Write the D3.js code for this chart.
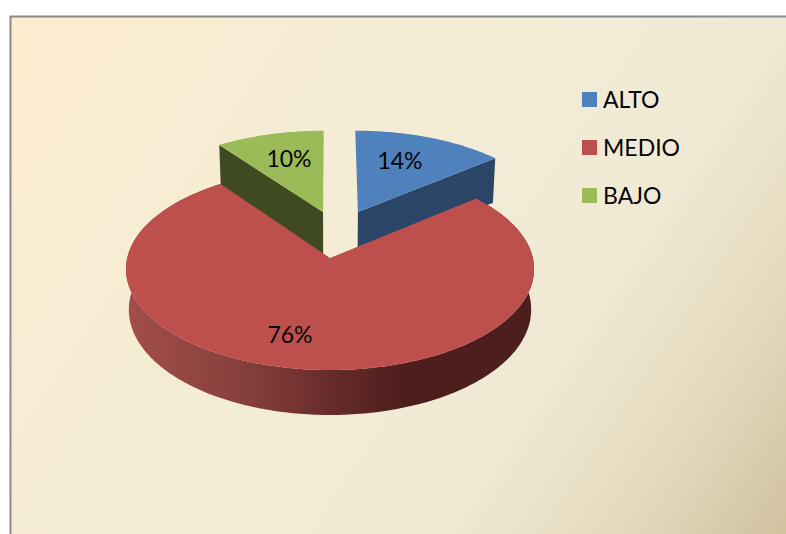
<!DOCTYPE html>
<html>
<head>
<meta charset="utf-8">
<script src="https://cdn.jsdelivr.net/npm/d3@7"></script>
<style>
html,body{margin:0;padding:0;background:#fff;overflow:hidden}
svg{display:block}
text{font-family:Lato,"Open Sans",sans-serif;fill:#050505}
</style>
</head>
<body>
<svg id="chart" width="786" height="534"></svg>
<script>
const categories = ["ALTO", "MEDIO", "BAJO"];
const values = [14, 76, 10];
const labels = ["14%", "76%", "10%"];
const topColors = ["#4f81bd", "#bd4f4c", "#9bbb59"];
const wallColors = ["#2a4566", "#6b2c2a", "#404a20"];
const explode = [[0.145, 0.486], [0, 0], [-0.036, 0.486]];

const W = 786, H = 534;
const svg = d3.select("#chart");
const defs = svg.append("defs");

const bg = defs.append("linearGradient").attr("id", "bg")
  .attr("gradientUnits", "userSpaceOnUse")
  .attr("x1", 10).attr("y1", 16).attr("x2", 786).attr("y2", 534);
[[0, "#ffecd0"], [0.22, "#f7ecd4"], [0.5, "#f3ecd6"], [0.7, "#efe8d2"], [0.84, "#e4dbbf"], [1, "#d1c29f"]]
  .forEach(s => bg.append("stop").attr("offset", s[0]).attr("stop-color", s[1]));

const rim = defs.append("linearGradient").attr("id", "rim")
  .attr("gradientUnits", "userSpaceOnUse")
  .attr("x1", 128).attr("y1", 0).attr("x2", 532).attr("y2", 0);
[[0, "#a24d4a"], [0.3, "#853f3b"], [0.52, "#642a29"], [0.68, "#4e1e1d"], [1, "#4c1e1d"]]
  .forEach(s => rim.append("stop").attr("offset", s[0]).attr("stop-color", s[1]));

svg.append("rect").attr("x", 10.5).attr("y", 16.5).attr("width", 790).attr("height", 530)
  .attr("fill", "url(#bg)").attr("stroke", "#8a8a8a").attr("stroke-width", 2);

// Pie projection: world disc (unit radius) to screen with mild perspective
const persp = 0.11, depth = 40, backDepth = 50, lowerShrink = 0.986;
const sx = d3.scaleLinear().domain([0, 1]).range([330, 330 + 202.8]);
const sy = d3.scaleLinear().domain([0, 1]).range([258, 258 - 99.7]);
const project = (X, Y, drop = 0) => {
  const w = 1 + persp * Y;
  const shrink = drop > 0 ? lowerShrink : 1;
  return [sx(shrink * X / w), sy(Y / w) + drop / w];
};

const arcs = d3.pie().sort(null).startAngle(0).endAngle(2 * Math.PI)(values);
const line = d3.line();

function rimPts(d, i, drop) {
  const [ex, ey] = explode[i];
  const n = Math.max(8, Math.round((d.endAngle - d.startAngle) * 60));
  return d3.range(n + 1).map(k => {
    const a = d.startAngle + (d.endAngle - d.startAngle) * k / n;
    return project(ex + Math.sin(a), ey + Math.cos(a), drop);
  });
}
const apex = (i, drop) => project(explode[i][0], explode[i][1], drop);

function drawSlice(i) {
  const d = arcs[i];
  const g = svg.append("g");
  const top = rimPts(d, i, 0);
  if (i === 1) {
    const low = rimPts(d, i, depth);
    g.append("path").attr("d", line(top.concat(low.slice().reverse())) + "Z").attr("fill", "url(#rim)");
  } else {
    const low = rimPts(d, i, backDepth);
    const end = i === 0 ? top.length - 1 : 0;
    g.append("path")
      .attr("d", line([apex(i, 0), top[end], low[end], apex(i, backDepth)]) + "Z")
      .attr("fill", wallColors[i]);
  }
  g.append("path")
    .attr("d", line([apex(i, 0)].concat(top)) + "Z")
    .attr("fill", topColors[i]);
}
[2, 0, 1].forEach(drawSlice);

// Value labels
const labelX = d3.scaleOrdinal().domain(categories).range([400, 290, 289]);
const labelY = d3.scaleOrdinal().domain(categories).range([159.5, 333.5, 157.5]);
svg.append("g").selectAll("text").data(categories).join("text")
  .attr("x", c => labelX(c)).attr("y", c => labelY(c))
  .attr("text-anchor", "middle").attr("dominant-baseline", "central")
  .attr("font-size", 23)
  .text((c, i) => labels[i]);

// Legend
const legY = d3.scalePoint().domain(categories).range([99.5, 195.5]);
const leg = svg.append("g").selectAll("g").data(categories).join("g")
  .attr("transform", c => `translate(582,${legY(c)})`);
leg.append("rect").attr("x", 0).attr("y", -7.5).attr("width", 15).attr("height", 15)
  .attr("fill", (c, i) => topColors[i]);
leg.append("text").attr("x", 21).attr("y", 8.5).attr("font-size", 23).text(c => c);
</script>
</body>
</html>
